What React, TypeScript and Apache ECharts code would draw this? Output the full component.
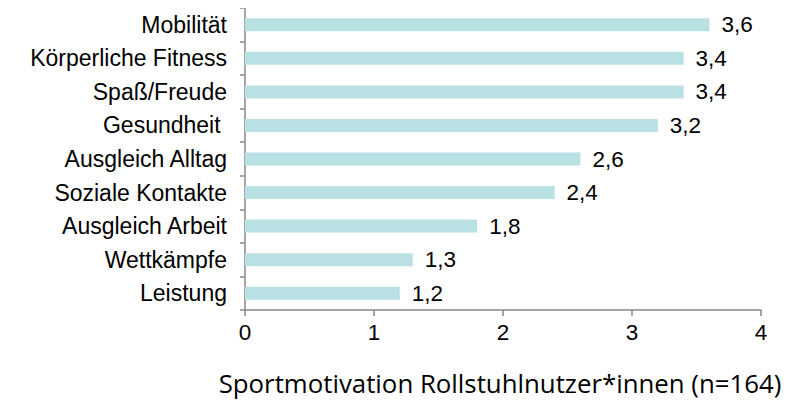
import React, { useEffect, useRef } from "react";
import * as echarts from "echarts";

const categories = [
  "Mobilität",
  "Körperliche Fitness",
  "Spaß/Freude",
  "Gesundheit ",
  "Ausgleich Alltag",
  "Soziale Kontakte",
  "Ausgleich Arbeit",
  "Wettkämpfe",
  "Leistung",
];
const values = [3.6, 3.4, 3.4, 3.2, 2.6, 2.4, 1.8, 1.3, 1.2];
const xTicks = [0, 1, 2, 3, 4];
const title = "Sportmotivation Rollstuhlnutzer*innen (n=164)";

export default function App() {
  const ref = useRef<HTMLDivElement>(null);
  useEffect(() => {
    const chart = echarts.init(ref.current!, null, { renderer: "svg" });
    chart.setOption({
      animation: false,
      title: {
        text: title,
        left: 495,
        textAlign: "center",
        top: 365,
        textStyle: {
          fontFamily: "Open Sans",
          fontSize: 25.8,
          fontWeight: "normal",
          color: "#000",
        },
      },
      grid: { left: 245, right: 32, top: 8, bottom: 97 },
      xAxis: {
        type: "value",
        min: xTicks[0],
        max: xTicks[xTicks.length - 1],
        interval: 1,
        axisLine: { show: true, lineStyle: { color: "#898989", width: 1.5 } },
        axisTick: { show: true, length: 6, lineStyle: { color: "#898989", width: 1.5 } },
        splitLine: { show: false },
        axisLabel: {
          color: "#000",
          fontFamily: "Liberation Sans",
          fontSize: 22.5,
          margin: 11,
        },
      },
      yAxis: {
        type: "category",
        data: categories,
        inverse: true,
        axisLine: { show: true, lineStyle: { color: "#898989", width: 1.5 } },
        axisTick: { show: true, length: 5, lineStyle: { color: "#898989", width: 1.5 } },
        axisLabel: {
          color: "#000",
          fontFamily: "Liberation Sans",
          fontSize: 23,
          margin: 18,
        },
      },
      series: [
        {
          type: "bar",
          data: values,
          barWidth: 13,
          itemStyle: { color: "#b9e0e2" },
          label: {
            show: true,
            position: "right",
            distance: 12,
            color: "#000",
            fontFamily: "Liberation Sans",
            fontSize: 22.5,
            formatter: (p: any) => String(p.value).replace(".", ","),
          },
        },
      ],
    });
    return () => chart.dispose();
  }, []);
  return <div ref={ref} style={{ width: 793, height: 407, margin: -8 }} />;
}
